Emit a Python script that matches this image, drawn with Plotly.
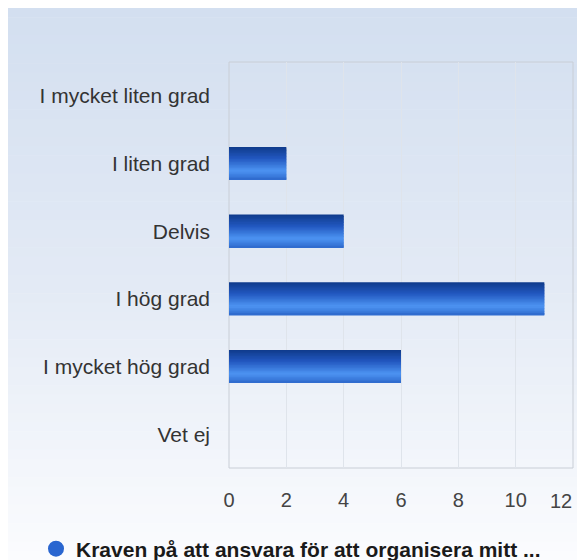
import plotly.graph_objects as go

categories = ["I mycket liten grad", "I liten grad", "Delvis", "I hög grad", "I mycket hög grad", "Vet ej"]
values = [0, 2, 4, 11, 6, 0]
series_name = "Kraven på att ansvara för att organisera mitt ..."
x_ticks = [0, 2, 4, 6, 8, 10, 12]

W, H = 577, 552
ML, MR, MT, MB = 221, 12, 54, 92
PW, PH = W - ML - MR, H - MT - MB


def hex2rgb(h):
    h = h.lstrip("#")
    return tuple(int(h[i:i + 2], 16) for i in (0, 2, 4))


def interp(stops, t):
    for (t0, c0), (t1, c1) in zip(stops, stops[1:]):
        if t0 <= t <= t1:
            f = (t - t0) / (t1 - t0) if t1 > t0 else 0
            a, b = hex2rgb(c0), hex2rgb(c1)
            return "rgb(%d,%d,%d)" % tuple(round(a[k] + (b[k] - a[k]) * f) for k in range(3))
    return stops[-1][1]


fig = go.Figure()

# bar gradient built from overlaid strips
bar_stops = [(0.0, "#0f3a8a"), (0.35, "#2258c0"), (0.72, "#4d94f2"), (1.0, "#2d68cc")]
N = 22
total = 0.49
w = total / N
for i in range(N):
    t = (i + 0.5) / N
    fig.add_trace(go.Bar(
        x=values, y=categories, orientation="h",
        width=(w * 1.8) if i < N - 1 else w, offset=-total / 2 + i * w,
        marker=dict(color=interp(bar_stops, t), line=dict(width=0)),
        showlegend=False, hoverinfo="skip",
    ))

# legend item with circle marker
fig.add_trace(go.Scatter(
    x=[None], y=[None], mode="markers", name=series_name,
    marker=dict(symbol="circle", size=20, color="#2a66d0",
                line=dict(width=0)),
))


def px_x(p):
    return (p - ML) / PW


def px_y(p):
    return (H - MB - p) / PH


# background gradient via shapes
bg_stops = [(0.0, "#d3dff0"), (0.5, "#e3eaf5"), (1.0, "#fbfcfe")]
M = 60
for i in range(M):
    y0 = H * i / M
    y1 = H * (i + 1) / M + 0.6
    fig.add_shape(type="rect", xref="paper", yref="paper", layer="below",
                  x0=px_x(-2), x1=px_x(W + 2), y0=px_y(y0), y1=px_y(y1),
                  fillcolor=interp(bg_stops, (i + 0.5) / M), line=dict(width=0))

# plot area border
fig.add_shape(type="rect", xref="paper", yref="paper", layer="below",
              x0=0, x1=1, y0=0, y1=1, line=dict(color="#c9ced6", width=1),
              fillcolor="rgba(0,0,0,0)")

# last tick label kept inside the chart (right-aligned at its tick)
tick_text = [str(v) for v in x_ticks[:-1]] + [""]
fig.add_annotation(x=x_ticks[-1], xref="x", y=0, yref="paper",
                   text=str(x_ticks[-1]), showarrow=False,
                   xanchor="right", yanchor="top", yshift=-20, xshift=1,
                   font=dict(size=20, color="#444444",
                             family="Liberation Sans, Arial, sans-serif"))

fig.update_layout(
    width=W, height=H,
    margin=dict(l=ML, r=MR, t=MT, b=MB, autoexpand=False),
    paper_bgcolor="white", plot_bgcolor="rgba(0,0,0,0)",
    barmode="overlay",
    font=dict(family="Liberation Sans, Arial, sans-serif", color="#333333"),
    xaxis=dict(range=[0, 12], tickvals=x_ticks, ticktext=tick_text,
               showgrid=True, gridcolor="#dfe4eb", gridwidth=1, zeroline=False,
               showline=False, ticks="", tickfont=dict(size=20, color="#444444"),
               ticklabelstandoff=18, fixedrange=True, automargin=False),
    yaxis=dict(categoryorder="array", categoryarray=categories, autorange="reversed",
               showgrid=False, zeroline=False, showline=False, ticks="",
               tickfont=dict(size=21, color="#333333"), ticklabelstandoff=18,
               fixedrange=True, automargin=False),
    legend=dict(orientation="h", xref="container", yref="container",
                x=28 / W, xanchor="left", y=1 - 541 / H, yanchor="middle",
                font=dict(size=21, color="#1a1a1a", family="Liberation Sans, Arial, sans-serif", weight="bold"),
                bgcolor="rgba(0,0,0,0)", itemsizing="trace"),
    showlegend=True,
)

fig.write_html("out.html")
